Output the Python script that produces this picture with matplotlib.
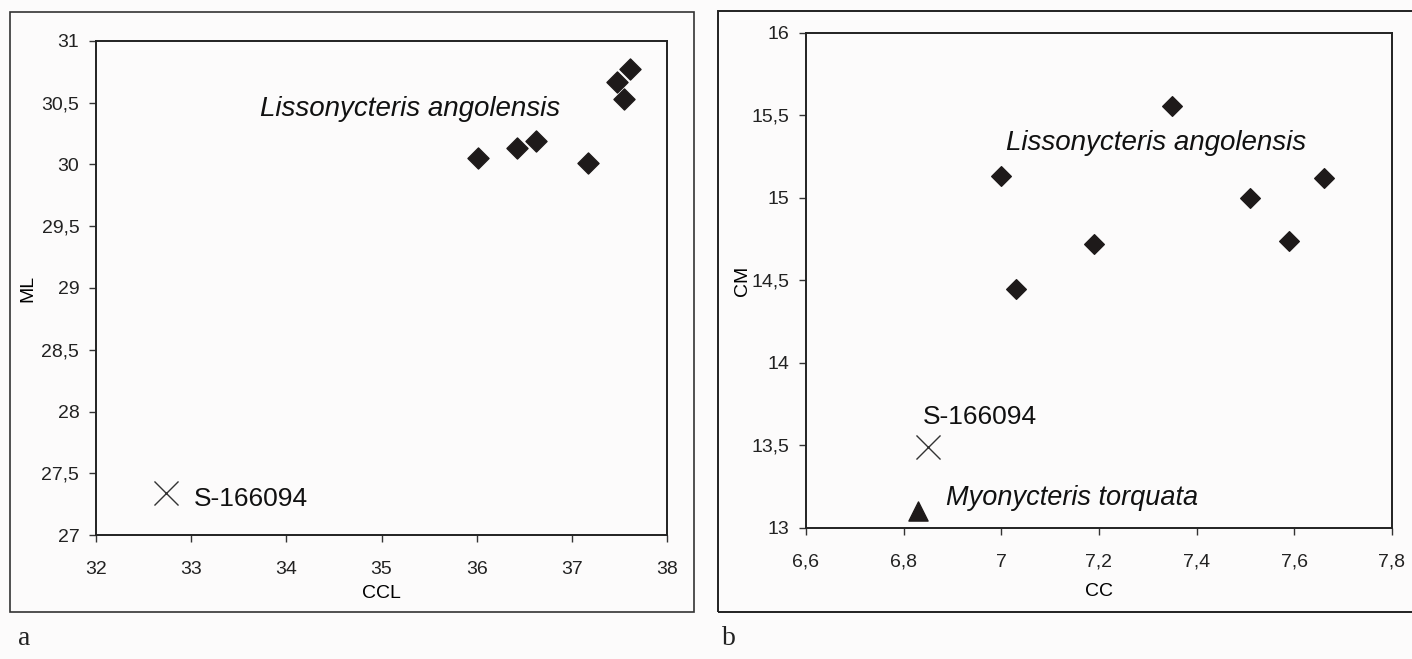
import matplotlib
matplotlib.use('Agg')
import matplotlib.pyplot as plt
from matplotlib.patches import Rectangle
from matplotlib.ticker import FuncFormatter, MultipleLocator

plt.rcParams['font.family'] = ['Liberation Sans', 'DejaVu Sans']

# panel a: CCL vs ML
ccl_lisso = [36.01, 36.42, 36.62, 37.17, 37.47, 37.55, 37.61]
ml_lisso = [30.05, 30.13, 30.19, 30.01, 30.67, 30.53, 30.77]
ccl_s166094 = [32.74]
ml_s166094 = [27.34]

# panel b: CC vs CM
cc_lisso = [7.00, 7.03, 7.19, 7.35, 7.51, 7.59, 7.66]
cm_lisso = [15.13, 14.45, 14.72, 15.56, 15.00, 14.74, 15.12]
cc_s166094 = [6.85]
cm_s166094 = [13.49]
cc_myo = [6.83]
cm_myo = [13.10]


def comma(v, pos):
    return ('%g' % round(v, 3)).replace('.', ',')


fig = plt.figure(figsize=(14.12, 6.59), dpi=100)
fig.patch.set_facecolor('#fcfbfb')

# outer frames round each panel
fig.add_artist(Rectangle((0.0071, 0.0713), 0.4844, 0.9105, transform=fig.transFigure,
                         fill=False, edgecolor='#333333', linewidth=1.2))
fig.add_artist(Rectangle((0.5085, 0.0713), 0.5, 0.912, transform=fig.transFigure,
                         fill=False, edgecolor='#222222', linewidth=1.4))

dark = '#1e1a1a'

ax1 = fig.add_axes([0.068, 0.188, 0.4044, 0.750])
ax1.scatter(ccl_lisso, ml_lisso, marker='D', s=115, color=dark, zorder=3)
ax1.scatter(ccl_s166094, ml_s166094, marker='x', s=300, color='#333333', linewidths=1.0, zorder=3)
ax1.text(33.72, 30.45, 'Lissonycteris angolensis', fontsize=20, style='italic', va='center', color='#111111')
ax1.text(33.03, 27.29, 'S-166094', fontsize=19, va='center', color='#111111')
ax1.set_xlim(32, 38)
ax1.set_ylim(27, 31)
ax1.xaxis.set_major_locator(MultipleLocator(1))
ax1.yaxis.set_major_locator(MultipleLocator(0.5))
ax1.set_xlabel('CCL', fontsize=14, labelpad=5)
ax1.set_ylabel('ML', fontsize=14, labelpad=4)

ax2 = fig.add_axes([0.5708, 0.199, 0.415, 0.751])
ax2.scatter(cc_lisso, cm_lisso, marker='D', s=100, color=dark, zorder=3)
ax2.scatter(cc_s166094, cm_s166094, marker='x', s=300, color='#333333', linewidths=1.0, zorder=3)
ax2.scatter(cc_myo, cm_myo, marker='^', s=190, color=dark, zorder=3)
ax2.text(7.01, 15.33, 'Lissonycteris angolensis', fontsize=20, style='italic', va='center', color='#111111')
ax2.text(6.84, 13.67, 'S-166094', fontsize=19, va='center', color='#111111')
ax2.text(6.886, 13.18, 'Myonycteris torquata', fontsize=19.5, style='italic', va='center', color='#111111')
ax2.set_xlim(6.6, 7.8)
ax2.set_ylim(13, 16)
ax2.xaxis.set_major_locator(MultipleLocator(0.2))
ax2.yaxis.set_major_locator(MultipleLocator(0.5))
ax2.set_xlabel('CC', fontsize=14, labelpad=9)
ax2.set_ylabel('CM', fontsize=14, labelpad=0)

for ax in (ax1, ax2):
    ax.set_facecolor('#fcfbfb')
    ax.xaxis.set_major_formatter(FuncFormatter(comma))
    ax.yaxis.set_major_formatter(FuncFormatter(comma))
    ax.tick_params(direction='out', length=5, width=1, labelsize=14, color='#333333', labelcolor='#222222')
    ax.tick_params(axis='x', pad=13.5)
    ax.tick_params(axis='y', pad=7)
    for sp in ax.spines.values():
        sp.set_linewidth(1.4)
        sp.set_color('#222222')

fig.text(0.013, 0.021, 'a', fontsize=20, family=['Liberation Serif'], color='#222222')
fig.text(0.511, 0.021, 'b', fontsize=20, family=['Liberation Serif'], color='#222222')

fig.savefig('out.png', dpi=100, facecolor=fig.get_facecolor())
